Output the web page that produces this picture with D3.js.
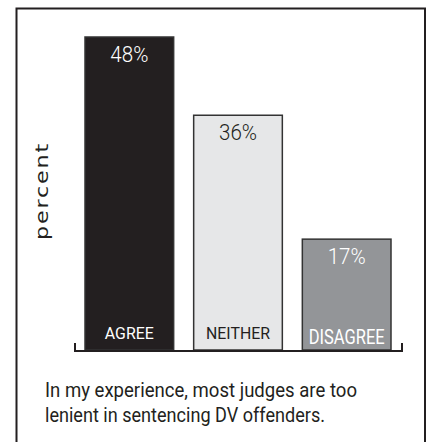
<!DOCTYPE html>
<html><head><meta charset="utf-8">
<script src="https://cdn.jsdelivr.net/npm/d3@7"></script>
<style>html,body{margin:0;padding:0;background:#fff;}svg{display:block;}</style>
</head><body>
<script>
const categories = ["AGREE", "NEITHER", "DISAGREE"];
const values = [48, 36, 17];
const valueLabels = ["48%", "36%", "17%"];
const fills = ["#231f20", "#e6e7e8", "#939598"];
const textColors = ["#ffffff", "#231f20", "#ffffff"];
const caption = ["In my experience, most judges are too", "lenient in sentencing DV offenders."];
const yLabel = "percent";

const W = 428, H = 442;
const narrow = "Roboto, 'Liberation Sans Narrow', 'DejaVu Sans Condensed', sans-serif";
const svg = d3.select("body").append("svg").attr("width", W).attr("height", H);

// frame
svg.append("rect").attr("x", 16.5).attr("y", 8.5).attr("width", 408.5).attr("height", 470)
  .attr("fill", "none").attr("stroke", "#231f20").attr("stroke-width", 2);

const x = d3.scaleBand().domain(categories).range([85, 391]).paddingInner(0.184).paddingOuter(0);
const y = d3.scaleLinear().domain([0, 48]).range([350, 37]);

const g = svg.append("g");
g.selectAll("rect.bar").data(categories).join("rect").attr("class", "bar")
  .attr("x", d => x(d)).attr("width", x.bandwidth())
  .attr("y", (d, i) => y(values[i])).attr("height", (d, i) => y(0) - y(values[i]))
  .attr("fill", (d, i) => fills[i]).attr("stroke", "#333").attr("stroke-width", 1.5);

// value labels
const valW = [38, 38, 38];
g.selectAll("text.val").data(categories).join("text").attr("class", "val")
  .attr("x", d => x(d) + x.bandwidth() / 2)
  .attr("y", (d, i) => y(values[i]) + 25)
  .attr("text-anchor", "middle").attr("font-family", narrow).attr("font-weight", 300).attr("font-size", 22)
  .attr("fill", (d, i) => textColors[i])
  .attr("textLength", (d, i) => valW[i]).attr("lengthAdjust", "spacingAndGlyphs")
  .text((d, i) => valueLabels[i]);

// category labels
const catW = [49, 64, 76];
const catY = [339, 339, 344];
const catSize = [17, 17, 21];
g.selectAll("text.cat").data(categories).join("text").attr("class", "cat")
  .attr("x", d => x(d) + x.bandwidth() / 2)
  .attr("y", (d, i) => catY[i])
  .attr("text-anchor", "middle").attr("font-family", narrow).attr("font-weight", 400).attr("font-size", (d, i) => catSize[i])
  .attr("fill", (d, i) => textColors[i])
  .attr("textLength", (d, i) => catW[i]).attr("lengthAdjust", "spacingAndGlyphs")
  .text(d => d);

// baseline axis with end ticks
svg.append("path")
  .attr("d", "M75,343 V351 H402 V343")
  .attr("fill", "none").attr("stroke", "#231f20").attr("stroke-width", 2);

// y label
svg.append("text")
  .attr("transform", "translate(48,191) rotate(-90)")
  .attr("text-anchor", "middle").attr("font-family", "'DejaVu Sans', sans-serif").attr("font-size", 18)
  .attr("letter-spacing", 1.5)
  .attr("fill", "#231f20").attr("textLength", 98).attr("lengthAdjust", "spacingAndGlyphs")
  .text(yLabel);

// caption
svg.selectAll("text.cap").data(caption).join("text").attr("class", "cap")
  .attr("x", 45).attr("y", (d, i) => 397 + i * 25)
  .attr("font-family", narrow).attr("font-weight", 400).attr("font-size", 21).attr("fill", "#231f20")
  .attr("textLength", (d, i) => i === 0 ? 312 : 280).attr("lengthAdjust", "spacingAndGlyphs")
  .text(d => d);
</script>
</body></html>
